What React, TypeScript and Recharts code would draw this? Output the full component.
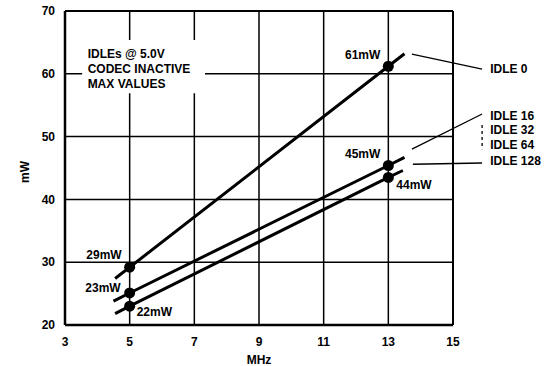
import { LineChart, Line, XAxis, YAxis, CartesianGrid, ReferenceLine, ReferenceArea, ReferenceDot, Label } from 'recharts';

const mhzTicks = [3, 5, 7, 9, 11, 13, 15];
const mwTicks = [20, 30, 40, 50, 60, 70];

// each drawn line runs a little past the two measured points (5 and 13 MHz)
const idle0Mhz = [4.55, 5, 13, 13.5];
const idle0Mw = [27.4, 29.2, 61.2, 63.2];
const idle0Labels = ['', '29mW', '61mW', ''];

const idle16Mhz = [4.5, 5, 13, 13.5];
const idle16Mw = [23.8, 25.1, 45.4, 46.7];
const idle16Labels = ['', '23mW', '45mW', ''];

const idle128Mhz = [4.55, 5, 13, 13.45];
const idle128Mw = [21.8, 23.0, 43.5, 44.6];
const idle128Labels = ['', '22mW', '44mW', ''];

const legendNames = ['IDLE 0', 'IDLE 16', 'IDLE 32', 'IDLE 64', 'IDLE 128'];
const noteLines = ['IDLEs @ 5.0V', 'CODEC INACTIVE', 'MAX VALUES'];

const FONT = 'Arial, "Liberation Sans", Helvetica, sans-serif';
const INK = '#000';

// where the right-hand names sit (chart units)
const legendX = 16.15;
const legendY = [60.76, 53.3, 51.05, 48.66, 46.1];
const noteX = 3.7;
const noteY = [63.15, 60.76, 58.38];

type LabelPlace = { anchor: 'start' | 'end'; dx: number; dy: number };

function build(mhz: number[], mw: number[], labels: string[]) {
  return mhz.map((x, i) => ({ mhz: x, mw: mw[i], label: labels[i] }));
}

const idle0 = build(idle0Mhz, idle0Mw, idle0Labels);
const idle16 = build(idle16Mhz, idle16Mw, idle16Labels);
const idle128 = build(idle128Mhz, idle128Mw, idle128Labels);

function makeDot(places: Record<number, LabelPlace>) {
  return (props: any) => {
    const { cx, cy, payload, index } = props;
    if (!payload || !payload.label) return <g key={`e${index}`} />;
    const p = places[index];
    return (
      <g key={`d${index}`}>
        <circle cx={cx} cy={cy} r={5.5} fill={INK} />
        <text
          x={cx + p.dx}
          y={cy + p.dy + 4}
          textAnchor={p.anchor}
          fontFamily={FONT}
          fontWeight="bold"
          fontSize={12}
          fill={INK}
          stroke="#fff"
          strokeWidth={3}
          paintOrder="stroke"
        >
          {payload.label}
        </text>
      </g>
    );
  };
}

const textStyle = { fontFamily: FONT, fontWeight: 'bold', fontSize: 12, fill: INK };

export default function App() {
  return (
    <div style={{ position: 'absolute', left: 0, top: 0, background: '#fff' }}>
      <LineChart width={556} height={366} margin={{ top: 11, right: 103, bottom: 0, left: 0 }}>
        <CartesianGrid stroke={INK} strokeWidth={1.5} />
        <XAxis
          type="number"
          dataKey="mhz"
          domain={[3, 15]}
          ticks={mhzTicks}
          allowDataOverflow
          height={41}
          tickLine={false}
          tickSize={0}
          tickMargin={12}
          axisLine={{ stroke: INK, strokeWidth: 2.5 }}
          tick={textStyle}
        >
          <Label value="MHz" position="insideBottom" offset={2} {...textStyle} />
        </XAxis>
        <YAxis
          type="number"
          domain={[20, 70]}
          ticks={mwTicks}
          allowDataOverflow
          width={65}
          tickLine={false}
          tickSize={0}
          tickMargin={10}
          axisLine={{ stroke: INK, strokeWidth: 2.5 }}
          tick={textStyle}
        >
          <Label
            content={() => (
              <text transform="translate(29,172) rotate(-90)" textAnchor="middle" {...textStyle}>
                mW
              </text>
            )}
          />
        </YAxis>
        <ReferenceLine y={70} stroke={INK} strokeWidth={2} />
        <ReferenceLine x={15} stroke={INK} strokeWidth={2} />

        <ReferenceArea x1={3.53} x2={7.33} y1={56.9} y2={65.4} fill="#fff" fillOpacity={1} stroke="none" />
        {noteLines.map((t, i) => (
          <ReferenceDot
            key={t}
            x={noteX}
            y={noteY[i]}
            r={0}
            ifOverflow="visible"
            label={{ value: t, position: 'right', offset: 0, ...textStyle }}
          />
        ))}

        <Line
          data={idle0}
          dataKey="mw"
          stroke={INK}
          strokeWidth={3}
          isAnimationActive={false}
          dot={makeDot({ 1: { anchor: 'end', dx: -8, dy: -12 }, 2: { anchor: 'end', dx: -8, dy: -11 } })}
          activeDot={false}
        />
        <Line
          data={idle16}
          dataKey="mw"
          stroke={INK}
          strokeWidth={3}
          isAnimationActive={false}
          dot={makeDot({ 1: { anchor: 'end', dx: -9, dy: -5 }, 2: { anchor: 'end', dx: -8, dy: -11 } })}
          activeDot={false}
        />
        <Line
          data={idle128}
          dataKey="mw"
          stroke={INK}
          strokeWidth={3}
          isAnimationActive={false}
          dot={makeDot({ 1: { anchor: 'start', dx: 7, dy: 6 }, 2: { anchor: 'start', dx: 8, dy: 8 } })}
          activeDot={false}
        />

        <ReferenceLine ifOverflow="visible" stroke={INK} strokeWidth={1.3}
          segment={[{ x: 13.73, y: 63.15 }, { x: 15.9, y: 60.76 }]} />
        <ReferenceLine ifOverflow="visible" stroke={INK} strokeWidth={1.3}
          segment={[{ x: 13.73, y: 48.0 }, { x: 15.9, y: 53.6 }]} />
        <ReferenceLine ifOverflow="visible" stroke={INK} strokeWidth={1.3}
          segment={[{ x: 13.76, y: 45.6 }, { x: 15.9, y: 45.8 }]} />
        <ReferenceLine ifOverflow="visible" stroke={INK} strokeWidth={1.3} strokeDasharray="3 3"
          segment={[{ x: 15.9, y: 51.85 }, { x: 15.9, y: 48.0 }]} />
        {legendNames.map((t, i) => (
          <ReferenceDot
            key={t}
            x={legendX}
            y={legendY[i]}
            r={0}
            ifOverflow="visible"
            label={{ value: t, position: 'right', offset: 0, ...textStyle }}
          />
        ))}
      </LineChart>
    </div>
  );
}
